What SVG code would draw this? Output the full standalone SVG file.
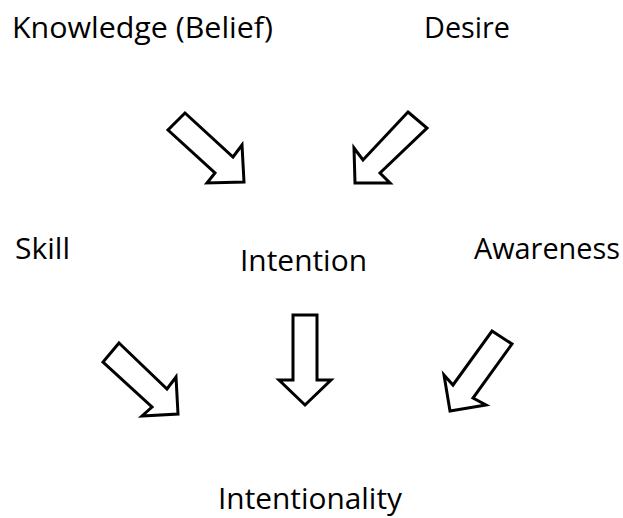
<svg xmlns="http://www.w3.org/2000/svg" width="623" height="518" viewBox="0 0 623 518">
  <style>
    .label { font-family: "Open Sans", "Noto Sans", "Liberation Sans", sans-serif; font-size: 29px; fill: #000; }
    .arrow { fill: #fff; stroke: #000; stroke-width: 3; stroke-linejoin: miter; }
  </style>
  <rect width="623" height="518" fill="#fff"/>

  <g id="node-knowledge">
    <text class="label" x="12" y="38" textLength="261" lengthAdjust="spacingAndGlyphs">Knowledge (Belief)</text>
  </g>
  <g id="node-desire">
    <text class="label" x="424" y="38" textLength="86" lengthAdjust="spacingAndGlyphs">Desire</text>
  </g>
  <g id="node-skill">
    <text class="label" x="15" y="259" textLength="55" lengthAdjust="spacingAndGlyphs">Skill</text>
  </g>
  <g id="node-intention">
    <text class="label" x="240" y="271" textLength="127" lengthAdjust="spacingAndGlyphs">Intention</text>
  </g>
  <g id="node-awareness">
    <text class="label" x="474" y="259" textLength="146" lengthAdjust="spacingAndGlyphs">Awareness</text>
  </g>
  <g id="node-intentionality">
    <text class="label" x="218" y="509" textLength="184" lengthAdjust="spacingAndGlyphs">Intentionality</text>
  </g>

  <!-- block arrows between the concepts -->
  <g id="connectors">
    <polygon class="arrow" points="185,113 233,157 242,145 244,182 207,183 215,173 168,130"/>
    <polygon class="arrow" points="408,112 427,128 380,173 390,183 355,183 354,148 363,160"/>
    <polygon class="arrow" points="119,343 167,389 176,377 178,414 142,416 152,407 103,362"/>
    <polygon class="arrow" points="293,315 317,315 317,380 331,380 305,405 279,380 293,380"/>
    <polygon class="arrow" points="492,331 512,344 473,398 486,405 450,411 444,375 453,385"/>
  </g>
</svg>
